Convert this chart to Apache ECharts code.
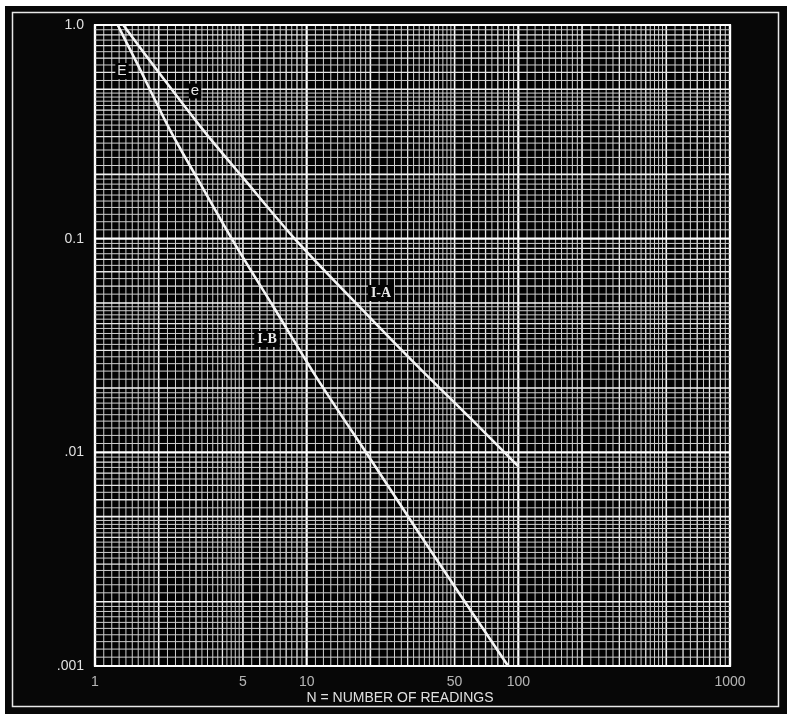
<!DOCTYPE html>
<html>
<head>
<meta charset="utf-8">
<script src="https://cdn.jsdelivr.net/npm/echarts@6/dist/echarts.min.js"></script>
<style>
html,body{margin:0;padding:0;background:#fff;}
#chart{width:787px;height:714px;}
</style>
</head>
<body>
<div id="chart"></div>
<script>
// Curve I-A ("e"): N vs value
var iaN = [1.36, 2, 3.24, 5, 9.1, 20, 34.4, 60, 100];
var iaY = [1.0, 0.6, 0.323, 0.193, 0.096, 0.0425, 0.0246, 0.0143, 0.0086];
// Curve I-B ("E")
var ibN = [1.28, 1.6, 2.26, 3, 4.59, 7, 11.2, 20, 34.4, 60, 89.5];
var ibY = [1.0, 0.645, 0.323, 0.196, 0.094, 0.0476, 0.0222, 0.0093, 0.0041, 0.0018, 0.001];
// Tick labels
var xTickValues = [1, 5, 10, 50, 100, 1000];
var xTickLabels = ['1', '5', '10', '50', '100', '1000'];
var yTickValues = [0.001, 0.01, 0.1, 1];
var yTickLabels = ['.001', '.01', '0.1', '1.0'];

// log-paper ruling multipliers within one decade (x10)
function decadeMultipliers() {
  var m = [];
  for (var k = 10; k < 20; k += 1) m.push(k);
  for (var k2 = 20; k2 < 50; k2 += 2) m.push(k2);
  for (var k3 = 50; k3 < 100; k3 += 5) m.push(k3);
  return m;
}
function rulings(decades, top) {
  var out = [];
  var mult = decadeMultipliers();
  decades.forEach(function (d) {
    mult.forEach(function (k) { out.push({v: k * d / 10, k: k}); });
  });
  out.push({v: top, k: 10});
  return out;
}
var xRul = rulings([1, 10, 100], 1000);
var yRul = rulings([0.001, 0.01, 0.1], 1);

function styleFor(k) {
  if (k === 10) return {stroke: '#ffffff', lineWidth: 2.2};
  if (k === 20 || k === 50) return {stroke: '#f4f4f4', lineWidth: 1.6};
  if (k % 10 === 0) return {stroke: '#e6e6e6', lineWidth: 1.3};
  return {stroke: '#cfcfcf', lineWidth: 1};
}

var chart = echarts.init(document.getElementById('chart'), null, {renderer: 'canvas'});
var FONT = 'Liberation Sans';

function zip(a, b) { return a.map(function (v, i) { return [v, b[i]]; }); }

var option = {
  backgroundColor: 'transparent',
  animation: false,
  grid: {left: 95, top: 25, right: 57, bottom: 48, show: true,
         backgroundColor: '#030303', borderColor: '#ffffff', borderWidth: 2.2},
  xAxis: {type: 'log', logBase: 10, min: 1, max: 1000,
          axisLine: {show: false}, axisTick: {show: false},
          splitLine: {show: false}, axisLabel: {show: false}},
  yAxis: {type: 'log', logBase: 10, min: 0.001, max: 1,
          axisLine: {show: false}, axisTick: {show: false}, splitLine: {show: false},
          axisLabel: {show: true, color: '#e0e0e0', fontFamily: FONT, fontSize: 14, margin: 11,
            formatter: function (v) {
              var e = Math.round(Math.log10(v));
              for (var i = 0; i < yTickValues.length; i++) {
                if (Math.round(Math.log10(yTickValues[i])) === e) return yTickLabels[i];
              }
              return '';
            }}},
  graphic: [
    {type: 'rect', z: -10, silent: true, shape: {x: 5, y: 6, width: 782, height: 708}, style: {fill: '#070707'}},
    {type: 'rect', z: -9, silent: true, shape: {x: 12.5, y: 12.5, width: 766, height: 694}, style: {fill: 'none', stroke: '#e8e8e8', lineWidth: 1.5}},
    {type: 'text', z: 100, x: 400, y: 698, style: {text: 'N = NUMBER OF READINGS', fill: '#e0e0e0', font: '14px "Liberation Sans"', textAlign: 'center', textVerticalAlign: 'middle'}},
    {type: 'text', z: 100, x: 122, y: 71, style: {text: 'E', fill: '#e8e8e8', font: '14px "Liberation Sans"', textAlign: 'center', textVerticalAlign: 'middle', backgroundColor: '#030303', padding: [1, 2]}},
    {type: 'text', z: 100, x: 195, y: 91, style: {text: 'e', fill: '#e8e8e8', font: '15px "Liberation Sans"', textAlign: 'center', textVerticalAlign: 'middle', backgroundColor: '#030303', padding: [0, 2]}},
    {type: 'text', z: 100, x: 381, y: 293, style: {text: 'I-A', fill: '#e8e8e8', font: 'bold 14px "Liberation Serif"', textAlign: 'center', textVerticalAlign: 'middle', backgroundColor: '#030303', padding: [1, 3]}},
    {type: 'text', z: 100, x: 267, y: 339, style: {text: 'I-B', fill: '#e8e8e8', font: 'bold 14px "Liberation Serif"', textAlign: 'center', textVerticalAlign: 'middle', backgroundColor: '#030303', padding: [1, 3]}}
  ],
  series: [
    {type: 'custom', z: 1, silent: true, clip: false,
     data: xRul.map(function (r) { return [r.v, r.k]; }),
     encode: {x: 0},
     renderItem: function (params, api) {
       var v = api.value(0), k = api.value(1);
       var p0 = api.coord([v, 1]), p1 = api.coord([v, 0.001]);
       return {type: 'line', shape: {x1: p0[0], y1: p0[1], x2: p1[0], y2: p1[1]}, style: styleFor(k)};
     }},
    {type: 'custom', z: 1, silent: true, clip: false,
     data: yRul.map(function (r) { return [1, r.v, r.k]; }),
     encode: {x: 0, y: 1},
     renderItem: function (params, api) {
       var v = api.value(1), k = api.value(2);
       var p0 = api.coord([1, v]), p1 = api.coord([1000, v]);
       return {type: 'line', shape: {x1: p0[0], y1: p0[1], x2: p1[0], y2: p1[1]}, style: styleFor(k)};
     }},
    {name: 'I-A', type: 'line', z: 5, data: zip(iaN, iaY), smooth: 0.3, symbol: 'none',
     lineStyle: {color: '#f4f4f4', width: 2.6}},
    {name: 'I-B', type: 'line', z: 5, data: zip(ibN, ibY), smooth: 0.3, symbol: 'none',
     lineStyle: {color: '#f4f4f4', width: 2.6}},
    {type: 'scatter', z: 6, silent: true, clip: false, symbolSize: 2,
     itemStyle: {color: 'rgba(0,0,0,0)'},
     data: xTickValues.map(function (v, i) { return {value: [v, 0.001], name: xTickLabels[i]}; }),
     label: {show: true, position: 'bottom', distance: 8, formatter: '{b}',
             color: '#e0e0e0', fontFamily: FONT, fontSize: 14}}
  ]
};
chart.setOption(option);
</script>
</body>
</html>
